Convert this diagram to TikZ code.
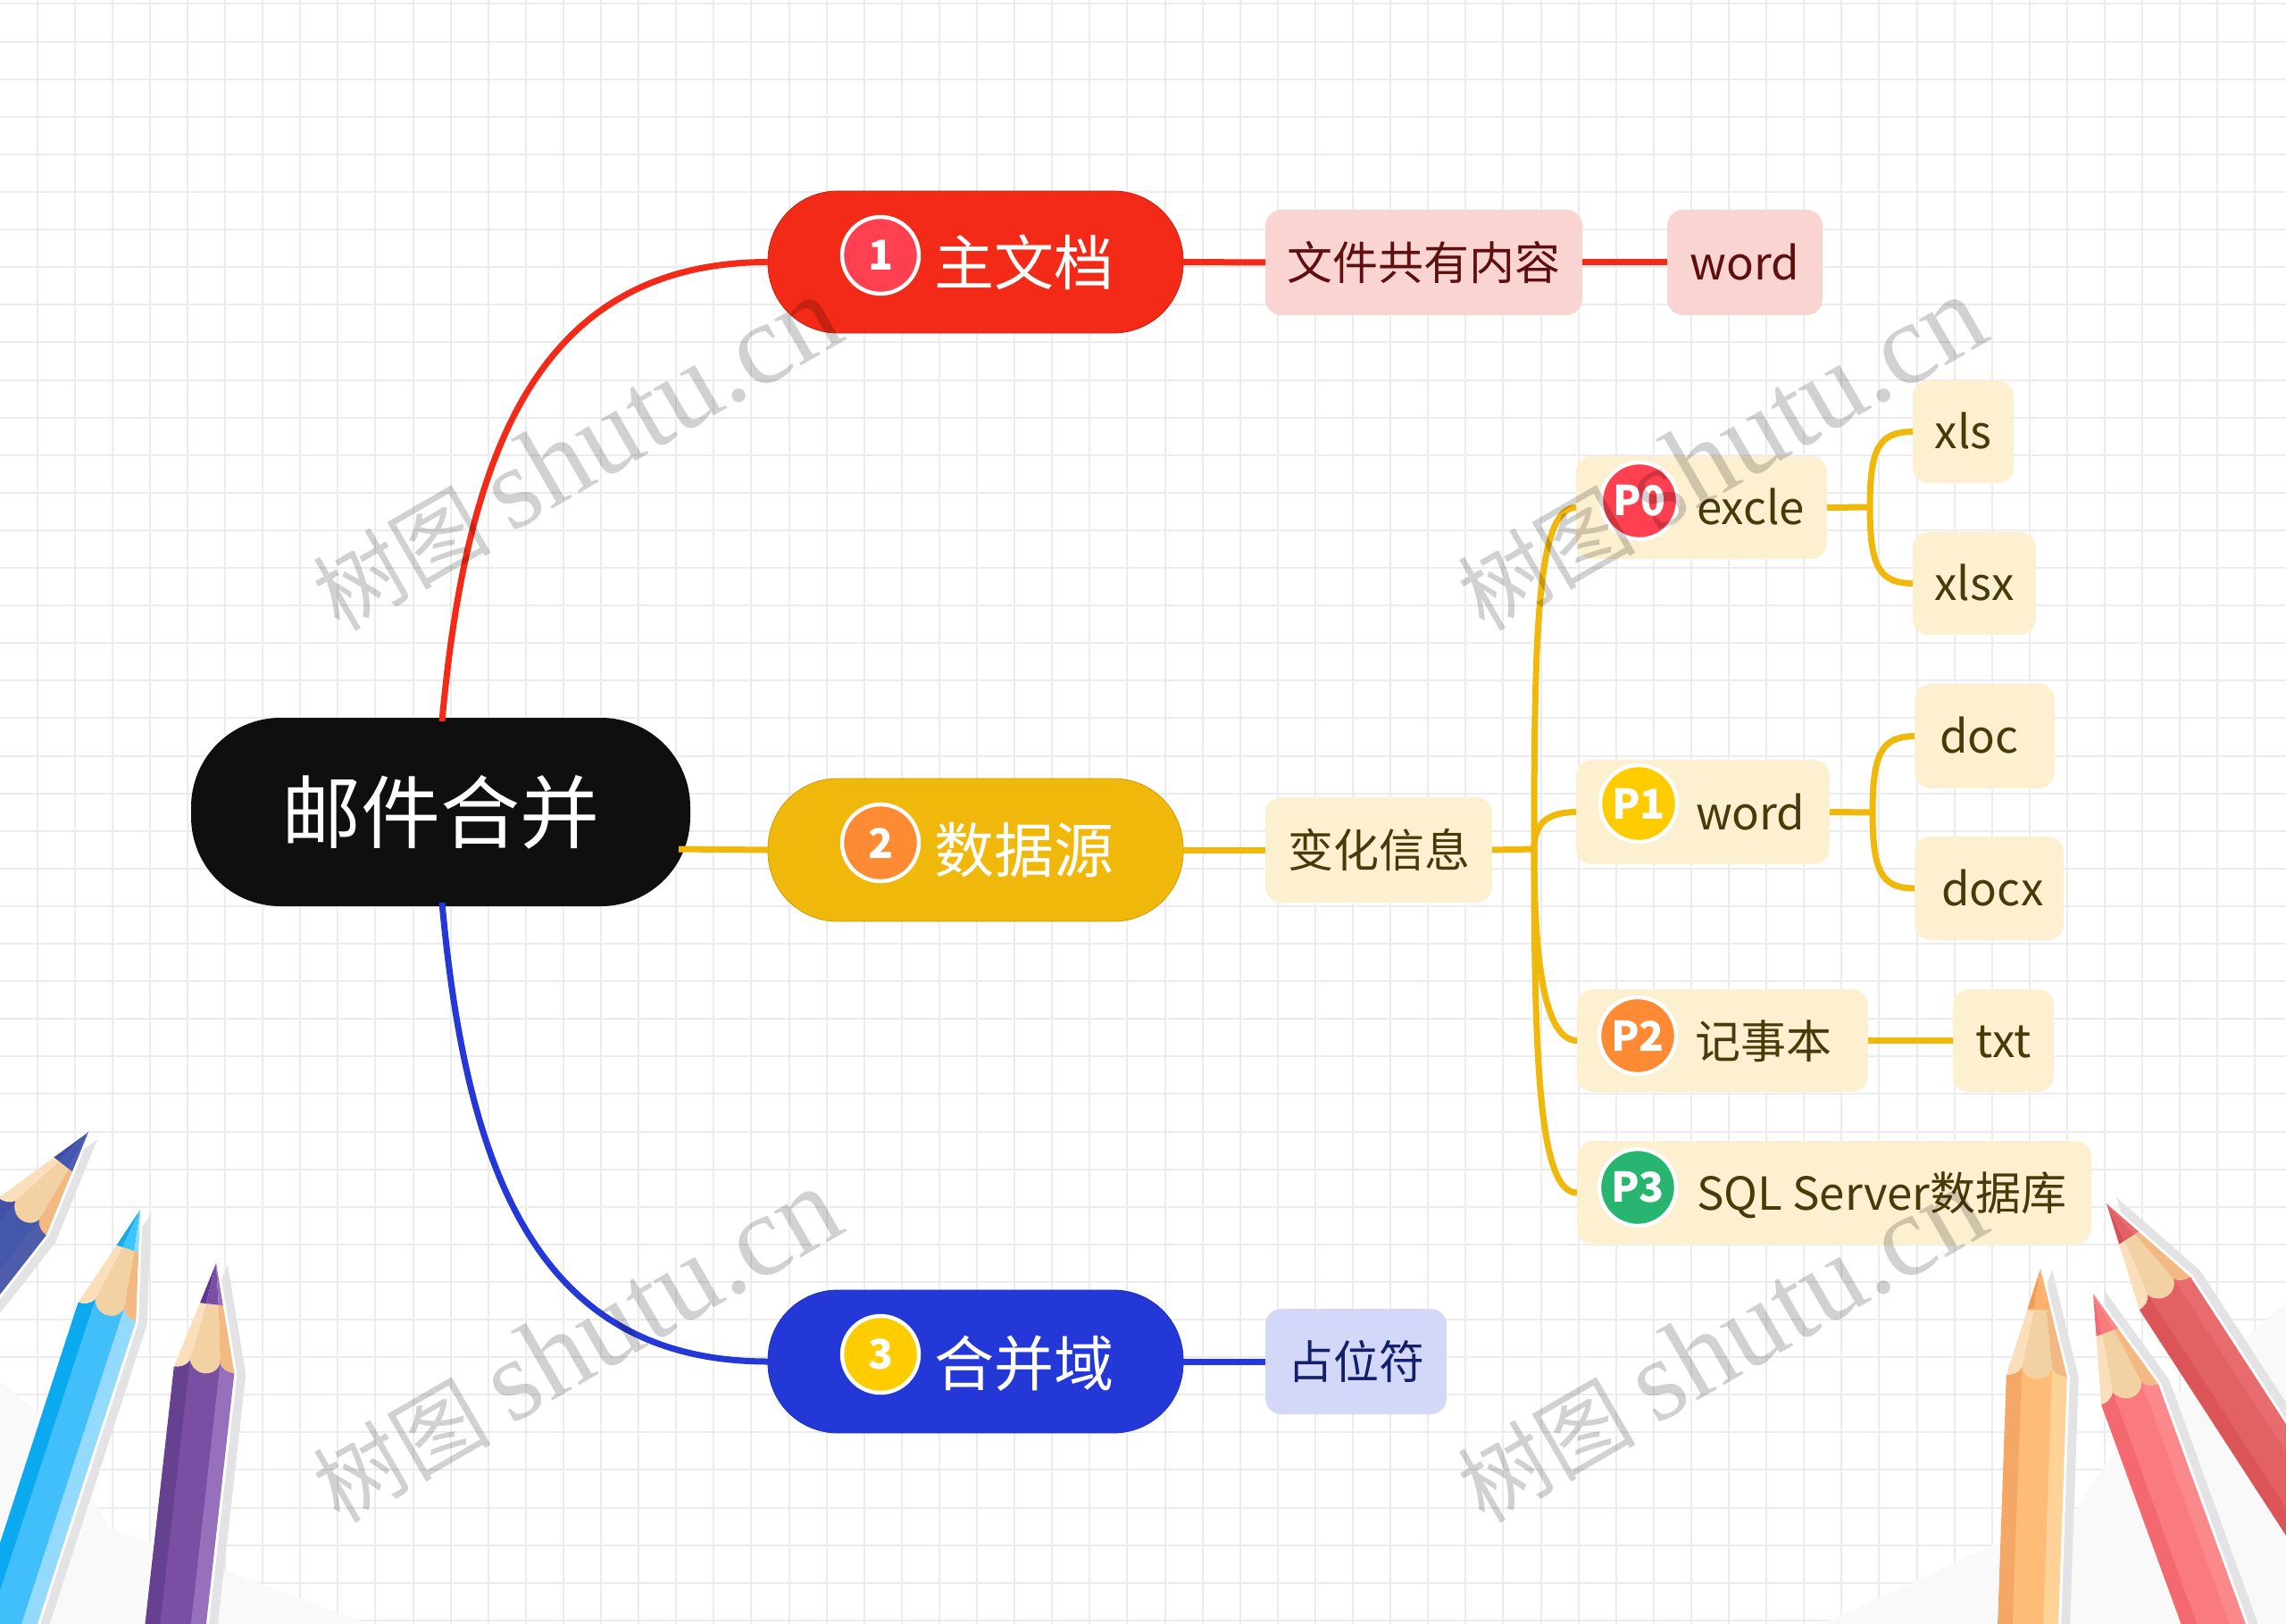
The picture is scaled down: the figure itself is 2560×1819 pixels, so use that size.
\documentclass[tikz,border=0pt]{standalone}
\usepackage{fontspec}
\setmainfont{Noto Sans CJK SC}
\newfontfamily\wmlatin{Liberation Serif}
\usetikzlibrary{calc}
\pgfdeclarelayer{bg}
\pgfdeclarelayer{wm}
\pgfsetlayers{bg,main,wm}
\definecolor{gridc}{HTML}{ECECEE}
\definecolor{cornerc}{HTML}{F9F9FA}
\definecolor{shadowc}{HTML}{E3E3E5}
\definecolor{woodh}{HTML}{FBDFBC}
\definecolor{woodm}{HTML}{F2D2A2}
\definecolor{woodd}{HTML}{F2B983}
\definecolor{navyd}{HTML}{4450A8}\definecolor{navym}{HTML}{4557AA}\definecolor{navyl}{HTML}{4E5CAB}\definecolor{navyt}{HTML}{3E4FA8}\definecolor{navyu}{HTML}{4557B0}\definecolor{navyv}{HTML}{4E5CB5}
\definecolor{skyd}{HTML}{0BA9F0}\definecolor{skym}{HTML}{40BFFB}\definecolor{skyl}{HTML}{93DAFD}\definecolor{skyt}{HTML}{1BA8E8}\definecolor{skyu}{HTML}{3EC5FB}\definecolor{skyv}{HTML}{8BDCFD}
\definecolor{purd}{HTML}{66418F}\definecolor{purm}{HTML}{7A4EA3}\definecolor{purl}{HTML}{9670BC}\definecolor{purt}{HTML}{5E3A92}\definecolor{puru}{HTML}{7A4EA3}\definecolor{purv}{HTML}{9670BC}
\definecolor{orad}{HTML}{F4A767}\definecolor{oram}{HTML}{FFBC77}\definecolor{oral}{HTML}{FFD297}\definecolor{orat}{HTML}{F49A52}\definecolor{orau}{HTML}{FDB06C}\definecolor{orav}{HTML}{FDB06C}
\definecolor{rosd}{HTML}{F3696F}\definecolor{rosm}{HTML}{F97B7D}\definecolor{rosl}{HTML}{FB888B}\definecolor{rost}{HTML}{F3696F}\definecolor{rosu}{HTML}{F97B7D}\definecolor{rosv}{HTML}{FB888B}
\definecolor{crmd}{HTML}{DB5458}\definecolor{crmm}{HTML}{E26163}\definecolor{crml}{HTML}{E86C6E}\definecolor{crmt}{HTML}{D9505A}\definecolor{crmu}{HTML}{E26163}\definecolor{crmv}{HTML}{E86C6E}
\definecolor{topr}{HTML}{F22A17}\definecolor{topy}{HTML}{F0B80A}\definecolor{topb}{HTML}{2438D8}
\definecolor{subr}{HTML}{FAD4D0}\definecolor{suby}{HTML}{FDF0D0}\definecolor{subb}{HTML}{D4D8F8}
\definecolor{txtr}{HTML}{5E1010}\definecolor{txty}{HTML}{4A3A0A}\definecolor{txtb}{HTML}{12206A}
\definecolor{icr}{HTML}{FF4050}\definecolor{ico}{HTML}{FF8A34}\definecolor{icy}{HTML}{FFCC00}\definecolor{icg}{HTML}{27B56F}
\tikzset{
  x=0.5pt,y=-0.5pt,
  every node/.style={inner sep=0pt,outer sep=0pt},
  rootbox/.style={fill=black!94,text=white,rounded corners=50pt,font=\fontsize{44.5}{50}\selectfont,text height=39pt,text depth=5.4pt},
  topicbox/.style={rounded corners=39pt},
  toptext/.style={text=white,anchor=center,font=\fontsize{33.5}{40}\selectfont,text height=29.5pt,text depth=4pt},
  subbox/.style={rounded corners=9pt,font=\fontsize{25.5}{30}\selectfont,text height=22.4pt,text depth=3pt},
  subtext/.style={anchor=west,text=txty,font=\fontsize{25.5}{30}\selectfont,text height=22.4pt,text depth=3pt},
  iconn/.style={circle,draw=white,line width=2.2pt,minimum size=43pt,text=white,font=\fontsize{23}{26}\selectfont\bfseries},
  linkr/.style={draw=topr,line width=3.5pt},
  linky/.style={draw=topy,line width=3.5pt},
  linkb/.style={draw=topb,line width=3.5pt},
  wmark/.style={rotate=30,text=black,opacity=0.18,font=\fontsize{50}{64}\selectfont}
}
\newcommand\boxnode[7]{%
  \pgfmathsetmacro\cxx{(#3+#5)/2}\pgfmathsetmacro\cyy{(#4+#6)/2}%
  \pgfmathsetmacro\ww{(#5-#3)*0.5}\pgfmathsetmacro\hh{(#6-#4)*0.5}%
  \node[#2,minimum width=\ww pt,minimum height=\hh pt] (#1) at (\cxx,\cyy) {#7};}
\newcommand\silhouette{(0,0) -- (13,46) -- (34,120) -- (34,800) -- (-34,800) -- (-34,120) -- (-13,46) -- cycle}
\newcommand\pencildraw[4]{%
  \begin{scope}[shift={(#1,#2)},rotate=#3]
    \fill[shadowc,shift={(13,0)}] \silhouette;
    \fill[white,shift={(3,0)}] \silhouette;
    \fill[#4m] (-18,108) rectangle (18,800);
    \fill[#4d] (-34,120) .. controls (-27,120) and (-20,117) .. (-17,111) -- (-18,800) -- (-34,800) -- cycle;
    \fill[#4l] (34,120) .. controls (27,120) and (20,117) .. (17,111) -- (17,800) -- (34,800) -- cycle;
    \fill[woodm] (-6,46) -- (8,46) -- (17,111) .. controls (15,120) and (7,124) .. (0,124) .. controls (-5,124) and (-14,120) .. (-17,111) -- cycle;
    \fill[woodh] (-13,46) -- (-6,46) -- (-17,111) .. controls (-20,117) and (-27,120) .. (-34,120) -- cycle;
    \fill[woodd] (8,46) -- (13,46) -- (34,120) .. controls (27,120) and (20,117) .. (17,111) -- cycle;
    \fill[#4t] (0,0) -- (-13,46) -- (-6,46) -- cycle;
    \fill[#4u] (0,0) -- (-6,46) -- (8,46) -- cycle;
    \fill[#4v] (0,0) -- (8,46) -- (13,46) -- cycle;
  \end{scope}}
\newcommand\wmtext{树图 {\wmlatin\fontsize{65}{64}\selectfont shutu.cn}}
\begin{document}
\begin{tikzpicture}
\useasboundingbox (0,0) rectangle (2560,1819);
\begin{pgfonlayer}{bg}
\begin{scope}
  \clip (0,0) rectangle (2560,1819);
  \fill[white] (0,0) rectangle (2560,1819);
  \foreach \k in {0,...,60} {\draw[gridc,line width=1pt] ({41.5+42.1*\k},0) -- ({41.5+42.1*\k},1819);}
  \foreach \k in {-5,...,38} {\draw[gridc,line width=1pt] (0,{215+42.1*\k}) -- (2560,{215+42.1*\k});}
  \fill[cornerc] (0,1547) -- (43,1583) -- (123,1711) -- (413,1819) -- (0,1819) -- cycle;
  \fill[cornerc] (2040,1819) -- (2233,1730) -- (2312,1710) -- (2360,1637) -- (2440,1560) -- (2560,1460) -- (2560,1819) -- cycle;
  \pencildraw{99}{1268}{-38}{navy}
  \pencildraw{157}{1355}{-18}{sky}
  \pencildraw{242}{1415}{-6.4}{pur}
  \pencildraw{2285}{1421}{-2}{ora}
  \pencildraw{2359}{1348}{33}{crm}
  \pencildraw{2344}{1449}{20}{ros}
\end{scope}
\end{pgfonlayer}

\boxnode{root}{rootbox}{214}{804}{773}{1015}{邮件合并}

\boxnode{t1}{topicbox,fill=topr,draw=topr!80!black,line width=.4pt}{860}{214}{1325}{373}{}
\boxnode{t2}{topicbox,fill=topy,draw=topy!85!black,line width=.4pt}{860}{872}{1325}{1032}{}
\boxnode{t3}{topicbox,fill=topb,draw=topb!85!black,line width=.4pt}{860}{1445}{1325}{1605}{}
\node[iconn,fill=icr] (i1) at (986,286) {1};
\node[iconn,fill=ico] (i2) at (986,944) {2};
\node[iconn,fill=icy] (i3) at (986,1517) {3};
\node[toptext] (l1) at (1147,294) {主文档};
\node[toptext] (l2) at (1147,952) {数据源};
\node[toptext] (l3) at (1147,1527) {合并域};

\boxnode{s1}{subbox,fill=subr,text=txtr}{1417}{235}{1772}{353}{文件共有内容}
\boxnode{s1a}{subbox,fill=subr,text=txtr}{1867}{235}{2041}{353}{word}
\boxnode{s2}{subbox,fill=suby,text=txty}{1417}{893}{1671}{1011}{变化信息}
\boxnode{s3}{subbox,fill=subb,text=txtb}{1417}{1466}{1620}{1584}{占位符}

\boxnode{p0}{subbox,fill=suby}{1765}{511}{2046}{626}{}
\boxnode{p1}{subbox,fill=suby}{1765}{851}{2049}{968}{}
\boxnode{p2}{subbox,fill=suby}{1766}{1108}{2092}{1223}{}
\boxnode{p3}{subbox,fill=suby}{1766}{1278}{2342}{1394}{}
\node[iconn,fill=icr] (ip0) at (1836,561) {P0};
\node[iconn,fill=icy] (ip1) at (1835,900) {P1};
\node[iconn,fill=ico] (ip2) at (1834,1160) {P2};
\node[iconn,fill=icg] (ip3) at (1834,1330) {P3};
\node[subtext] (lp0) at (1900,568) {excle};
\node[subtext] (lp1) at (1899,910) {word};
\node[subtext] (lp2) at (1898,1166) {记事本};
\node[subtext] (lp3) at (1900,1336) {SQL Server数据库};

\boxnode{xls}{subbox,fill=suby,text=txty}{2142}{426}{2255}{541}{xls}
\boxnode{xlsx}{subbox,fill=suby,text=txty}{2142}{596}{2280}{711}{xlsx}
\boxnode{doc}{subbox,fill=suby,text=txty}{2144}{766}{2301}{883}{doc\kern6pt}
\boxnode{docx}{subbox,fill=suby,text=txty}{2144}{937}{2311}{1053}{\kern4pt docx}
\boxnode{txt}{subbox,fill=suby,text=txty}{2187}{1108}{2300}{1223}{txt}

% connectors
\coordinate (rt) at (495,808);
\coordinate (rb) at (495,1011);
\coordinate (rr) at (760,951);
\draw[linkr] (rt) .. controls (522,512) and (599,294) .. (t1.west);
\draw[linky] (rr) -- (t2.west);
\draw[linkb] (rb) .. controls (522,1307) and (599,1525) .. (t3.west);
\draw[linkr] (t1.east) -- (s1.west);
\draw[linkr] (s1.east) -- (s1a.west);
\draw[linky] (t2.east) -- (s2.west);
\draw[linkb] (t3.east) -- (s3.west);
\coordinate (trunk) at (1718,951);
\draw[linky] (s2.east) -- (trunk);
\draw[linky] (trunk) .. controls (1718,700) and (1722,568) .. (p0.west);
\draw[linky] (trunk) .. controls (1718,920) and (1735,910) .. (p1.west);
\draw[linky] (trunk) .. controls (1718,1080) and (1730,1165) .. (p2.west);
\draw[linky] (trunk) .. controls (1718,1200) and (1725,1336) .. (p3.west);
\coordinate (j0) at (2094,568);
\coordinate (j1) at (2097,910);
\draw[linky] (p0.east) -- (j0);
\draw[linky] (j0) .. controls (2094,500) and (2105,484) .. (xls.west);
\draw[linky] (j0) .. controls (2094,636) and (2105,653) .. (xlsx.west);
\draw[linky] (p1.east) -- (j1);
\draw[linky] (j1) .. controls (2097,842) and (2108,825) .. (doc.west);
\draw[linky] (j1) .. controls (2097,978) and (2108,995) .. (docx.west);
\draw[linky] (p2.east) -- (txt.west);

\begin{pgfonlayer}{wm}
\node[wmark] (w1) at (645,508) {\wmtext};
\node[wmark] (w2) at (1927,508) {\wmtext};
\node[wmark] (w3) at (645,1507) {\wmtext};
\node[wmark] (w4) at (1927,1507) {\wmtext};
\end{pgfonlayer}
\end{tikzpicture}
\end{document}
